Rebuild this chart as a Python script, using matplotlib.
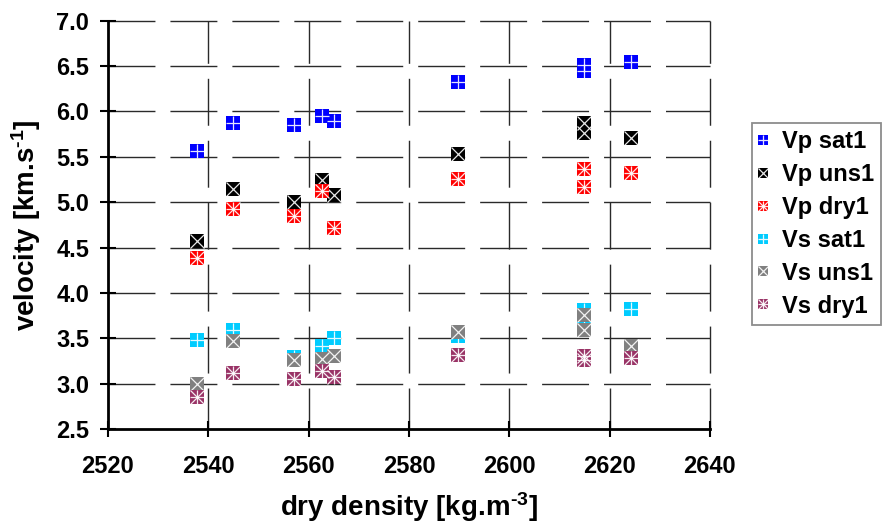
import numpy as np
import matplotlib.pyplot as plt
from matplotlib.legend_handler import HandlerTuple

plt.rcParams['font.family'] = ['Liberation Sans', 'DejaVu Sans']
plt.rcParams['font.weight'] = 'bold'
plt.rcParams['mathtext.fontset'] = 'custom'
plt.rcParams['mathtext.rm'] = 'Liberation Sans:bold'
plt.rcParams['mathtext.bf'] = 'Liberation Sans:bold'
plt.rcParams['mathtext.default'] = 'rm'

# dry density of each sample [kg/m3]
rho_p_sat = [2537.7, 2545.0, 2557.1, 2562.6, 2565.1, 2589.8, 2614.8, 2614.8, 2624.2]
vp_sat = [5.56, 5.875, 5.85, 5.95, 5.90, 6.32, 6.51, 6.45, 6.54]

rho_p_uns = [2537.7, 2545.0, 2557.1, 2562.6, 2565.1, 2589.8, 2614.8, 2614.8, 2624.2]
vp_uns = [4.57, 5.14, 5.00, 5.24, 5.08, 5.53, 5.875, 5.76, 5.71]

rho_p_dry = [2537.7, 2545.0, 2557.1, 2562.6, 2565.1, 2589.8, 2614.8, 2614.8, 2624.2]
vp_dry = [4.39, 4.93, 4.85, 5.12, 4.71, 5.25, 5.365, 5.17, 5.32]

rho_s_sat = [2537.7, 2545.0, 2557.1, 2562.6, 2565.1, 2589.8, 2614.8, 2614.8, 2624.2]
vs_sat = [3.48, 3.59, 3.29, 3.41, 3.50, 3.52, 3.81, 3.74, 3.82]

rho_s_uns = [2537.7, 2545.0, 2557.1, 2562.6, 2565.1, 2589.8, 2614.8, 2614.8, 2624.2]
vs_uns = [3.00, 3.47, 3.26, 3.27, 3.30, 3.57, 3.755, 3.59, 3.41]

rho_s_dry = [2537.7, 2545.0, 2557.1, 2562.6, 2565.1, 2589.8, 2614.8, 2614.8, 2624.2]
vs_dry = [2.855, 3.12, 3.05, 3.14, 3.075, 3.32, 3.30, 3.26, 3.285]

series = [
    ('Vp sat1', rho_p_sat, vp_sat, '#0000ff', ['+']),
    ('Vp uns1', rho_p_uns, vp_uns, '#000000', ['x']),
    ('Vp dry1', rho_p_dry, vp_dry, '#ff0000', ['x', '+']),
    ('Vs sat1', rho_s_sat, vs_sat, '#00ccff', ['+']),
    ('Vs uns1', rho_s_uns, vs_uns, '#808080', ['x']),
    ('Vs dry1', rho_s_dry, vs_dry, '#993366', ['x', '+']),
]

fig = plt.figure(figsize=(8.82, 5.28), dpi=100)
ax = fig.add_axes([0.1224, 0.1875, 0.6825, 0.7733])

handles = []
labels = []
ms = 9.5
for name, x, y, col, crosses in series:
    sq, = ax.plot(x, y, 's', ms=ms, color=col, mew=0, zorder=3)
    parts = [sq]
    for c in crosses:
        cr, = ax.plot(x, y, c, ms=ms, color='white', mew=0.9, zorder=3, alpha=0.9)
        parts.append(cr)
    handles.append(tuple(parts))
    labels.append(name)

ax.set_xlim(2520, 2640)
ax.set_ylim(2.5, 7.0)
ax.set_xticks(np.arange(2520, 2641, 20))
ax.set_yticks(np.arange(2.5, 7.01, 0.5))
ax.set_yticklabels([f'{v:.1f}' for v in np.arange(2.5, 7.01, 0.5)])

# long-dash grid
ax.grid(False)
for yv in np.arange(3.0, 7.01, 0.5):
    ax.axhline(yv, color='#2a2a2a', lw=1.0, ls=(0, (33.8, 10.8)), zorder=1,
               clip_on=False)
for xv in np.arange(2540, 2641, 20):
    ax.axvline(xv, color='#2a2a2a', lw=1.0, ls=(4.3, (33.8, 10.8)), zorder=1,
               clip_on=False)

for s in ['top', 'right']:
    ax.spines[s].set_visible(False)
for s in ['left', 'bottom']:
    ax.spines[s].set_linewidth(2.0)
    ax.spines[s].set_color('black')

ax.tick_params(direction='inout', length=11, width=1.5, labelsize=17)
ax.tick_params(axis='x', pad=13)
ax.tick_params(axis='y', pad=8)
for lab in ax.get_xticklabels() + ax.get_yticklabels():
    lab.set_fontweight('bold')

ax.set_xlabel(r'dry density [kg.m$^{\text{-3}}$]', fontsize=20, fontweight='bold')
ax.xaxis.set_label_coords(0.5, -0.15)
ax.set_ylabel(r'velocity [km.s$^{\text{-1}}$]', fontsize=20, fontweight='bold')
ax.yaxis.set_label_coords(-0.108, 0.5)

leg = fig.legend(handles, labels, loc='upper left',
                 bbox_to_anchor=(752 / 882, 1 - 123 / 528),
                 handler_map={tuple: HandlerTuple(ndivide=1)},
                 prop={'size': 17, 'weight': 'bold'},
                 markerscale=0.75, handlelength=0.3, handletextpad=0.68,
                 labelspacing=0.42, borderpad=0.3, borderaxespad=0,
                 fancybox=False, frameon=True)
leg.get_frame().set_edgecolor('#707070')
leg.get_frame().set_linewidth(1.3)

fig.savefig('out.png', dpi=100)
